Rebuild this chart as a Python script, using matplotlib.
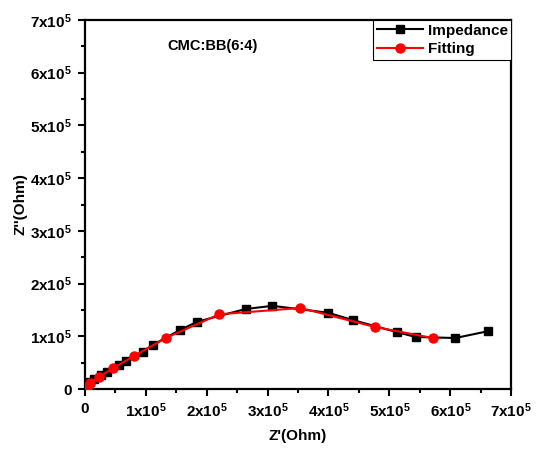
import matplotlib
matplotlib.use("Agg")
import matplotlib.pyplot as plt
from matplotlib.ticker import MultipleLocator, FuncFormatter

plt.rcParams["font.family"] = ["Liberation Sans", "DejaVu Sans"]
plt.rcParams["mathtext.default"] = "regular"

# Nyquist data, Z' and Z'' in units of 1e5 Ohm
imp_re = [0.005, 0.025, 0.05, 0.09, 0.15, 0.27, 0.36, 0.56, 0.67, 0.95, 1.12,
          1.56, 1.85, 2.64, 3.08, 3.99, 4.40, 5.13, 5.43, 6.08, 6.62]
imp_im = [0.01, 0.03, 0.08, 0.13, 0.19, 0.27, 0.32, 0.45, 0.53, 0.71, 0.84,
          1.12, 1.28, 1.52, 1.58, 1.45, 1.31, 1.08, 0.99, 0.97, 1.10]

fit_re = [0.005, 0.04, 0.08, 0.23, 0.47, 0.81, 1.33, 2.21, 3.54, 4.76, 5.71]
fit_im = [0.0, 0.045, 0.11, 0.23, 0.40, 0.63, 0.97, 1.42, 1.54, 1.18, 0.97]

scale = 1e5


def sci_label(v, pos):
    n = int(round(v / scale))
    if n == 0:
        return "0"
    return f"{n}x10$^{{5}}$"


fig = plt.figure(figsize=(5.36, 4.51), dpi=100)
ax = fig.add_axes([0.158, 0.137, 0.796, 0.819])

ax.plot([x * scale for x in imp_re], [y * scale for y in imp_im],
        color="black", marker="s", markersize=5.5, linewidth=1.5,
        label="Impedance", zorder=2)
ax.plot([x * scale for x in fit_re], [y * scale for y in fit_im],
        color="red", marker="o", markersize=6.5, linewidth=1.5,
        label="Fitting", zorder=3)

ax.set_xlim(0, 7e5)
ax.set_ylim(0, 7e5)
ax.xaxis.set_major_locator(MultipleLocator(1e5))
ax.xaxis.set_minor_locator(MultipleLocator(0.5e5))
ax.yaxis.set_major_locator(MultipleLocator(1e5))
ax.yaxis.set_minor_locator(MultipleLocator(0.5e5))
ax.xaxis.set_major_formatter(FuncFormatter(sci_label))
ax.yaxis.set_major_formatter(FuncFormatter(sci_label))

ax.tick_params(which="major", direction="out", length=5, width=1.5,
               labelsize=11, pad=4)
ax.tick_params(which="minor", direction="out", length=3, width=1.5)
for lab in ax.get_xticklabels() + ax.get_yticklabels():
    lab.set_fontweight("bold")
for sp in ax.spines.values():
    sp.set_linewidth(1.6)

ax.set_xlabel("Z'(Ohm)", fontsize=11, fontweight="bold", labelpad=6)
ax.set_ylabel("Z''(Ohm)", fontsize=11, fontweight="bold", labelpad=2)

ax.text(0.30, 0.93, "CMC:BB(6:4)", transform=ax.transAxes, fontsize=10.5,
        fontweight="bold", ha="center", va="center")

leg = ax.legend(loc="upper right", borderaxespad=0, fancybox=False,
                framealpha=1, edgecolor="black", handlelength=3.0,
                handletextpad=0.3, borderpad=0.25, labelspacing=0.3,
                prop={"weight": "bold", "size": 11})
leg.get_frame().set_linewidth(0.8)

fig.savefig("out.png", dpi=100)
